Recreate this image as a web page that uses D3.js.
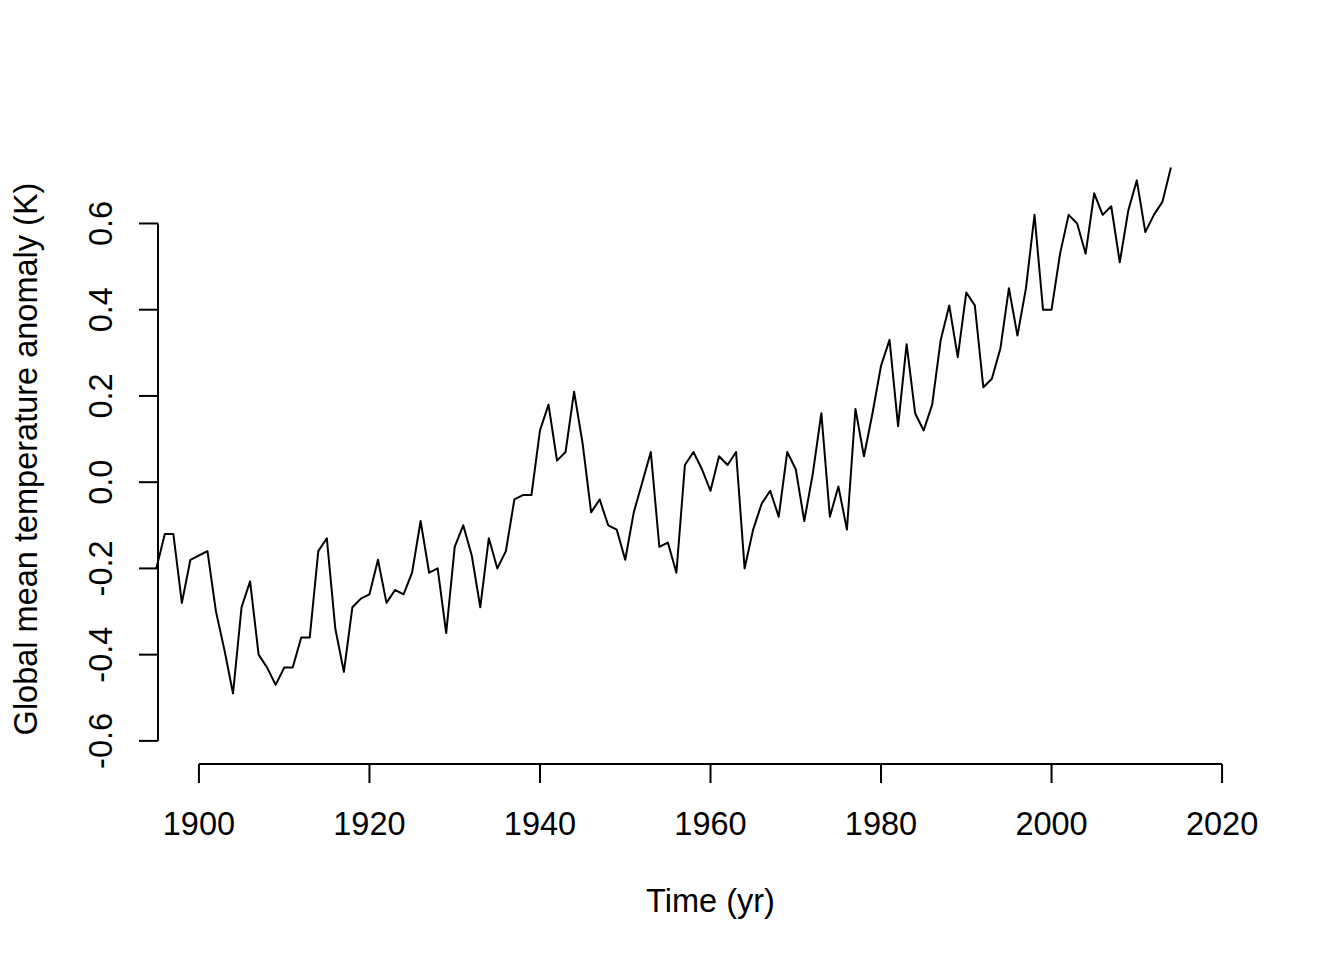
<!DOCTYPE html>
<html>
<head>
<meta charset="utf-8">
<script src="https://cdn.jsdelivr.net/npm/d3@7"></script>
<style>
  body { margin: 0; background: #fff; }
  svg text { font-family: Arial, "Liberation Sans", sans-serif; fill: #000; }
  .line { fill: none; stroke: #000; stroke-width: 2; stroke-linejoin: round; }
  .axis line, .axis path { stroke: #000; stroke-width: 2; }
</style>
</head>
<body>
<div id="chart"></div>
<script>
(function(){

  // annual global mean temperature anomaly
  var years = d3.range(1895, 2015);
  var anomaly = [
    -0.20, -0.12, -0.12, -0.28, -0.18,                                  // 1895-1899
    -0.17, -0.16, -0.30, -0.39, -0.49, -0.29, -0.23, -0.40, -0.43, -0.47, // 1900s
    -0.43, -0.43, -0.36, -0.36, -0.16, -0.13, -0.34, -0.44, -0.29, -0.27, // 1910s
    -0.26, -0.18, -0.28, -0.25, -0.26, -0.21, -0.09, -0.21, -0.20, -0.35, // 1920s
    -0.15, -0.10, -0.17, -0.29, -0.13, -0.20, -0.16, -0.04, -0.03, -0.03, // 1930s
     0.12,  0.18,  0.05,  0.07,  0.21,  0.09, -0.07, -0.04, -0.10, -0.11, // 1940s
    -0.18, -0.07,  0.00,  0.07, -0.15, -0.14, -0.21,  0.04,  0.07,  0.03, // 1950s
    -0.02,  0.06,  0.04,  0.07, -0.20, -0.11, -0.05, -0.02, -0.08,  0.07, // 1960s
     0.03, -0.09,  0.02,  0.16, -0.08, -0.01, -0.11,  0.17,  0.06,  0.16, // 1970s
     0.27,  0.33,  0.13,  0.32,  0.16,  0.12,  0.18,  0.33,  0.41,  0.29, // 1980s
     0.44,  0.41,  0.22,  0.24,  0.31,  0.45,  0.34,  0.45,  0.62,  0.40, // 1990s
     0.40,  0.53,  0.62,  0.60,  0.53,  0.67,  0.62,  0.64,  0.51,  0.63, // 2000s
     0.70,  0.58,  0.62,  0.65,  0.73                                     // 2010-2014
  ];

  var xTicks = [1900, 1920, 1940, 1960, 1980, 2000, 2020];
  var yTicks = [-0.6, -0.4, -0.2, 0.0, 0.2, 0.4, 0.6];
  var yTickLabels = ['-0.6', '-0.4', '-0.2', '0.0', '0.2', '0.4', '0.6'];

  var xTitle = 'Time (yr)';
  var yTitle = 'Global mean temperature anomaly (K)';

  var W = 1344, H = 960;
  var plot = { left: 158, right: 1263, top: 140, bottom: 764 };
  var tickLen = 19;
  var fs = 32.5;

  var x = d3.scaleLinear().domain([1895.2, 2024.8]).range([plot.left, plot.right]);
  var y = d3.scaleLinear().domain([-0.6536, 0.7936]).range([plot.bottom, plot.top]);

  var svg = d3.select('#chart')
    .append('svg')
      .attr('width', W)
      .attr('height', H);

  svg.append('rect').attr('width', W).attr('height', H).attr('fill', '#fff');

  var line = d3.line()
        .x(function(d, i){ return x(years[i]); })
        .y(function(d){ return y(d); });

  svg.append('path')
    .datum(anomaly)
    .attr('class', 'line')
    .attr('d', line);

  // x axis: R style, line only from first to last tick
  var xAxis = svg.append('g').attr('class', 'axis');
  xAxis.append('line')
    .attr('x1', x(xTicks[0])).attr('x2', x(xTicks[xTicks.length - 1]))
    .attr('y1', plot.bottom).attr('y2', plot.bottom);
  xAxis.selectAll('line.tick')
    .data(xTicks)
    .enter().append('line')
      .attr('class', 'tick')
      .attr('x1', function(d){ return x(d); })
      .attr('x2', function(d){ return x(d); })
      .attr('y1', plot.bottom).attr('y2', plot.bottom + tickLen);
  xAxis.selectAll('text')
    .data(xTicks)
    .enter().append('text')
      .attr('x', function(d){ return x(d); })
      .attr('y', 835)
      .attr('text-anchor', 'middle')
      .attr('font-size', fs)
      .text(function(d){ return d; });

  // y axis
  var yAxis = svg.append('g').attr('class', 'axis');
  yAxis.append('line')
    .attr('x1', plot.left).attr('x2', plot.left)
    .attr('y1', y(yTicks[0])).attr('y2', y(yTicks[yTicks.length - 1]));
  yAxis.selectAll('line.tick')
    .data(yTicks)
    .enter().append('line')
      .attr('class', 'tick')
      .attr('x1', plot.left - tickLen).attr('x2', plot.left)
      .attr('y1', function(d){ return y(d); })
      .attr('y2', function(d){ return y(d); });
  yAxis.selectAll('text')
    .data(yTicks)
    .enter().append('text')
      .attr('transform', function(d){ return 'translate(112,' + y(d) + ') rotate(-90)'; })
      .attr('text-anchor', 'middle')
      .attr('font-size', fs)
      .text(function(d, i){ return yTickLabels[i]; });

  // axis titles
  svg.append('text')
    .attr('x', (plot.left + plot.right) / 2)
    .attr('y', 912)
    .attr('text-anchor', 'middle')
    .attr('font-size', fs)
    .text(xTitle);

  svg.append('text')
    .attr('transform', 'translate(37,459) rotate(-90)')
    .attr('text-anchor', 'middle')
    .attr('font-size', fs)
    .text(yTitle);

})();
</script>
</body>
</html>
